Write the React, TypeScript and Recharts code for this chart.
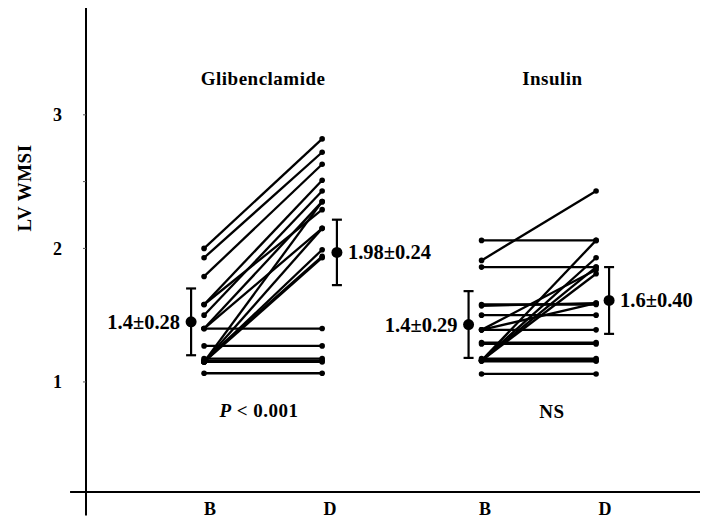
import React from 'react';
import { ComposedChart, Scatter, XAxis, YAxis, ReferenceLine, ReferenceDot, ErrorBar } from 'recharts';

// Glibenclamide: baseline (B) and follow-up (D) LV WMSI per patient
const glibB = [2.0, 1.93, 1.79, 1.58, 1.58, 1.5, 1.4, 1.4, 1.4, 1.27, 1.15, 1.15, 1.15, 1.15, 1.16, 1.15, 1.16, 1.175, 1.065];
const glibD = [2.82, 2.72, 2.63, 2.51, 2.29, 2.43, 2.35, 2.15, 1.4, 1.27, 2.35, 2.15, 1.99, 1.93, 1.94, 1.15, 1.16, 1.175, 1.065];
// Insulin
const insB = [1.91, 2.06, 1.86, 1.58, 1.57, 1.5, 1.39, 1.39, 1.39, 1.285, 1.295, 1.155, 1.165, 1.175, 1.16, 1.16, 1.16, 1.16, 1.06];
const insD = [2.43, 2.06, 1.86, 1.58, 1.59, 1.5, 1.39, 1.84, 1.59, 1.285, 1.295, 1.155, 1.165, 1.175, 2.06, 1.93, 1.86, 1.81, 1.06];

// x positions of the four time points
const glibX = [1, 2.0];
const insX = [3.35, 4.32];

// group means with SD
const meanX = [0.89, 2.125, 3.24, 4.43];
const meanY = [1.45, 1.97, 1.43, 1.61];
const meanErr = [0.25, 0.245, 0.25, 0.25];
const meanLabels = ['1.4±0.28', '1.98±0.24', '1.4±0.29', '1.6±0.40'];
const meanSide = [-1, 1, -1, 1];

// axis ticks
const xTicks = [1.05, 2.066, 3.38, 4.395];
const xTickLabels = ['B', 'D', 'B', 'D'];
const yTicks = [1, 2, 2.5, 3];

const FONT = "'Liberation Serif', 'Times New Roman', serif";

const glibPairs = glibB.map((b, i) => [
  { x: glibX[0], y: b },
  { x: glibX[1], y: glibD[i] },
]);
const insPairs = insB.map((b, i) => [
  { x: insX[0], y: b },
  { x: insX[1], y: insD[i] },
]);
const means = meanX.map((x, i) => ({ x, y: meanY[i], err: meanErr[i], label: meanLabels[i], side: meanSide[i] }));

const SmallDot = (p: any) => <circle cx={p.cx} cy={p.cy} r={2.8} fill="#000" />;

const MeanDot = (p: any) => {
  const side = p.payload.side;
  return (
    <g>
      <circle cx={p.cx} cy={p.cy} r={5.5} fill="#000" />
      <text
        x={p.cx + side * 11}
        y={p.cy}
        dominantBaseline="central"
        textAnchor={side < 0 ? 'end' : 'start'}
        fontFamily={FONT}
        fontWeight="bold"
        fontSize={20.5}
        fill="#000"
      >
        {p.payload.label}
      </text>
    </g>
  );
};

const textLabel = (content: React.ReactNode, size = 19) => (props: any) => {
  const vb = props.viewBox || {};
  return (
    <text
      x={vb.x}
      y={vb.y}
      textAnchor="middle"
      fontFamily={FONT}
      fontWeight="bold"
      fontSize={size}
      letterSpacing={0.5}
      fill="#000"
    >
      {content}
    </text>
  );
};

export default function App() {
  return (
    <div style={{ position: 'absolute', left: 0, top: 0, background: '#fff' }}>
      <ComposedChart width={708} height={519} margin={{ top: 8, right: 8, left: 0, bottom: 0 }}>
        <XAxis
          type="number"
          dataKey="x"
          domain={[0, 5.2]}
          ticks={xTicks}
          tickFormatter={(_v: any, i: number) => xTickLabels[i]}
          axisLine={false}
          tickLine={false}
          tickSize={0}
          tickMargin={10}
          height={27}
          interval={0}
          tick={{ fontFamily: FONT, fontWeight: 'bold', fontSize: 18, fill: '#000' }}
          allowDataOverflow
        />
        <YAxis
          type="number"
          dataKey="y"
          domain={[0.176, 3.8]}
          ticks={yTicks}
          tickFormatter={(v: number) => (v === 2.5 ? '' : String(v))}
          axisLine={false}
          tickSize={3}
          tickMargin={21}
          width={86}
          interval={0}
          tickLine={{ stroke: '#555', strokeWidth: 1 }}
          tick={{ fontFamily: FONT, fontWeight: 'bold', fontSize: 18, fill: '#000' }}
          allowDataOverflow
          label={{
            content: () => (
              <text
                x={24}
                y={188}
                transform="rotate(-90 24 188)"
                textAnchor="middle"
                dominantBaseline="central"
                fontFamily={FONT}
                fontWeight="bold"
                fontSize={19}
                letterSpacing={0.5}
                fill="#000"
              >
                LV WMSI
              </text>
            ),
          }}
        />
        <ReferenceLine
          segment={[{ x: 0, y: 3.8 }, { x: 0, y: 0.0 }]}
          stroke="#000"
          strokeWidth={2}
          ifOverflow="visible"
        />
        <ReferenceLine
          segment={[{ x: -0.135, y: 0.176 }, { x: 5.2, y: 0.176 }]}
          stroke="#000"
          strokeWidth={2}
          ifOverflow="visible"
        />
        {glibPairs.map((d, i) => (
          <Scatter
            key={'g' + i}
            data={d}
            line={{ stroke: '#000', strokeWidth: 2.3 }}
            shape={SmallDot}
            fill="#000"
            isAnimationActive={false}
          />
        ))}
        {insPairs.map((d, i) => (
          <Scatter
            key={'i' + i}
            data={d}
            line={{ stroke: '#000', strokeWidth: 2.3 }}
            shape={SmallDot}
            fill="#000"
            isAnimationActive={false}
          />
        ))}
        <Scatter data={means} shape={MeanDot} fill="#000" isAnimationActive={false}>
          <ErrorBar dataKey="err" direction="y" width={5} stroke="#000" strokeWidth={2.2} />
        </Scatter>
        <ReferenceDot x={1.5} y={3.225} r={0} stroke="none" fill="none" ifOverflow="visible" label={{ content: textLabel('Glibenclamide') }} />
        <ReferenceDot x={3.95} y={3.225} r={0} stroke="none" fill="none" ifOverflow="visible" label={{ content: textLabel('Insulin') }} />
        <ReferenceDot
          x={1.465}
          y={0.738}
          r={0}
          stroke="none"
          fill="none"
          ifOverflow="visible"
          label={{
            content: textLabel(
              <>
                <tspan fontStyle="italic">P</tspan>
                <tspan> {'<'} 0.001</tspan>
              </>
            ),
          }}
        />
        <ReferenceDot x={3.946} y={0.73} r={0} stroke="none" fill="none" ifOverflow="visible" label={{ content: textLabel('NS') }} />
      </ComposedChart>
    </div>
  );
}
